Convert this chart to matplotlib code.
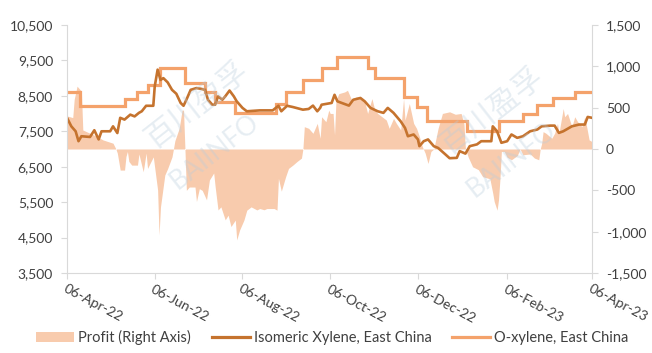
import matplotlib
matplotlib.use("Agg")
import matplotlib.pyplot as plt
from matplotlib.patches import Patch
from matplotlib.lines import Line2D
import pandas as pd

plt.rcParams['font.family'] = ['Lato', 'Noto Sans CJK SC', 'DejaVu Sans']

START = pd.Timestamp("2022-04-06")

# ---- O-xylene, East China (step changes; day offsets after 06-Apr-22) ----
ox_day = [0, 9, 40, 49, 56, 65, 82, 96, 103, 117, 145, 152, 164, 177, 188, 209,
          214, 234, 243, 250, 278, 300, 317, 327, 338, 353, 365]
ox_val = [8600, 8200, 8400, 8600, 8800, 9300, 8850, 8600, 8330, 8020, 8280, 8600,
          8950, 9300, 9600, 9300, 9000, 8480, 8180, 7780, 7500, 7780, 7980, 8250,
          8450, 8600, 8600]

# ---- Isomeric Xylene, East China ----
iso_day = [0, 3, 6, 8, 10, 16, 19, 22, 24, 30, 32, 35, 37, 40, 44, 47, 50, 52, 55,
           60, 61, 63, 65, 67, 70, 73, 76, 79, 81, 83, 86, 90, 93, 96, 98, 101, 103,
           105, 108, 110, 113, 116, 118, 122, 125, 134, 143, 147, 149, 153, 157, 164,
           168, 171, 174, 176, 177, 184, 186, 188, 191, 196, 199, 204, 207, 211, 216,
           220, 223, 227, 232, 235, 237, 241, 244, 245, 248, 251, 255, 258, 263, 266,
           271, 273, 277, 280, 285, 288, 295, 296, 299, 302, 306, 309, 313, 317, 322,
           327, 330, 336, 339, 342, 345, 351, 356, 360, 362, 365]
iso_val = [7880, 7640, 7500, 7220, 7360, 7340, 7530, 7270, 7500, 7500, 7640, 7450,
           7880, 7830, 7970, 7920, 8020, 8065, 8220, 8220, 8770, 9240, 8950, 9000,
           8880, 8670, 8560, 8300, 8220, 8390, 8670, 8720, 8700, 8670, 8390, 8250,
           8250, 8485, 8390, 8485, 8650, 8485, 8345, 8160, 8065, 8090, 8090, 8220,
           8065, 8220, 8185, 8110, 8130, 8225, 8065, 8160, 8250, 8300, 8530, 8345,
           8300, 8225, 8390, 8440, 8345, 8160, 8065, 8020, 8160, 8020, 7780, 7595,
           7360, 7410, 7270, 7080, 7220, 7270, 7080, 7030, 6850, 6740, 6750, 6940,
           6870, 7080, 7130, 7220, 7220, 7640, 7500, 7175, 7220, 7410, 7315, 7360,
           7500, 7550, 7640, 7660, 7660, 7455, 7500, 7640, 7690, 7690, 7905, 7880]

# ---- Profit (Right Axis) ----
pr_day = [0, 4, 5, 7, 10, 11, 16, 21, 25, 32, 34, 35, 37, 40, 41, 42, 43, 45, 49, 50,
          53, 55, 56, 60, 63, 64, 65, 68, 70, 73, 74, 75, 78, 80, 81, 82, 83, 85, 89,
          90, 92, 94, 97, 99, 102, 103, 105, 107, 110, 112, 114, 117, 118, 120, 123,
          125, 128, 132, 134, 137, 139, 144, 146, 147, 149, 152, 154, 157, 160, 163,
          164, 165, 168, 171, 174, 176, 177, 180, 182, 183, 185, 186, 187, 189, 193,
          195, 198, 201, 204, 207, 209, 212, 214, 216, 219, 222, 224, 227, 229, 232,
          234, 235, 238, 241, 243, 245, 247, 249, 251, 253, 255, 258, 261, 266, 270,
          274, 276, 277, 279, 282, 286, 289, 292, 294, 296, 297, 299, 300, 301, 302,
          304, 306, 309, 313, 315, 317, 322, 325, 328, 329, 330, 331, 333, 337, 339,
          341, 342, 345, 346, 348, 351, 353, 355, 358, 360, 363, 365]
pr_val = [400, 380, 600, 760, 700, 230, 190, 150, 110, 70, 0, -50, -255, -255, -90, -30,
          -150, -195, -195, -60, -275, -50, -235, -95, -495, -1040, -700, -315, -235,
          -95, 0, 100, 250, 470, 470, 0, -500, -460, -460, -635, -480, -500, -615,
          -375, -290, -455, -737, -700, -857, -800, -938, -860, -1100, -980, -860,
          -740, -700, -737, -720, -735, -720, -720, -740, -355, -510, -335, -235,
          -195, -150, -110, 0, 270, 250, 190, 310, 130, 390, 330, 470, 430, 430, 170,
          590, 670, 690, 710, 590, 630, 620, 570, 430, 610, 470, 430, 390, 350, 250,
          370, 310, 230, 610, 350, 550, 310, 250, 150, 30, -50, -175, -30, 0, 250,
          430, 450, 420, 430, 300, 0, -100, -215, -250, -335, -350, -360, -535, -635,
          -740, -615, -360, -30, -30, -100, -130, -80, 0, -70, -60, -110, -130, 0, 66,
          210, 190, 130, 190, 310, 190, 490, 390, 430, 270, 390, 330, 270, 390, 110, 90]

tick_labels = ["06-Apr-22", "06-Jun-22", "06-Aug-22", "06-Oct-22",
               "06-Dec-22", "06-Feb-23", "06-Apr-23"]
left_ticks = [3500, 4500, 5500, 6500, 7500, 8500, 9500, 10500]
right_ticks = [-1500, -1000, -500, 0, 500, 1000, 1500]

C_PROFIT = "#F8CBAD"
C_ISO = "#C5732E"
C_OX = "#F4A26B"
TXT = "#404040"
SPINE = "#D9D9D9"
WM = "#B8CCDC"

def to_dates(days):
    return START + pd.to_timedelta(days, unit="D")

fig = plt.figure(figsize=(6.52, 3.53), dpi=100)
ax = fig.add_axes([67/652, 1-273/353, (592-67)/652, (273-25)/353])
ax2 = ax.twinx()
ax.set_zorder(ax2.get_zorder() + 1)
ax.patch.set_visible(False)

ax2.fill_between(to_dates(pr_day), 0, pr_val, color=C_PROFIT, linewidth=0)
ax.plot(to_dates(ox_day), ox_val, drawstyle="steps-post", color=C_OX, lw=2.3,
        solid_joinstyle="miter")
ax.plot(to_dates(iso_day), iso_val, color=C_ISO, lw=1.9)

# faint watermark (pixel positions converted to figure fractions)
for (cx, cy), (bx, by) in [((197, 106), (215, 152)), ((492, 112), (512, 160))]:
    fig.text(cx/652, 1-cy/353, "百川盈孚", rotation=38, fontsize=22, color=WM,
             alpha=0.35, ha="center", va="center", zorder=10,
             family=['Noto Sans CJK SC', 'DejaVu Sans'])
    fig.text(bx/652, 1-by/353, "BAIINFO", rotation=38, fontsize=19, color=WM,
             alpha=0.35, ha="center", va="center", zorder=10)

ax.set_xlim(to_dates([0])[0], to_dates([365])[0])
ax.set_ylim(3500, 10500)
ax2.set_ylim(-1500, 1500)

tick_dates = pd.to_datetime(tick_labels, format="%d-%b-%y")
ax.set_xticks(tick_dates)
ax.set_xticklabels(tick_labels, rotation=-28, ha="left", va="top",
                   rotation_mode="anchor", fontsize=10, color=TXT)
ax.set_yticks(left_ticks)
ax.set_yticklabels([f"{v:,}" for v in left_ticks], fontsize=10, color=TXT)
ax2.set_yticks(right_ticks)
ax2.set_yticklabels([f"{v:,}" for v in right_ticks], fontsize=10, color=TXT)

for a in (ax, ax2):
    for s in a.spines.values():
        s.set_visible(False)
ax.spines["left"].set_visible(True)
ax.spines["left"].set_color(SPINE)
ax.spines["bottom"].set_visible(True)
ax.spines["bottom"].set_color(SPINE)
ax2.spines["right"].set_visible(True)
ax2.spines["right"].set_color(SPINE)

ax.tick_params(axis="y", length=4, color=SPINE, pad=6)
ax.tick_params(axis="x", length=4, color=SPINE, pad=3)
ax2.tick_params(axis="y", length=4, color=SPINE, pad=6)

handles = [Patch(facecolor=C_PROFIT, edgecolor="none"),
           Line2D([], [], color=C_ISO, lw=2.3),
           Line2D([], [], color=C_OX, lw=2.3)]
labels = ["Profit (Right Axis)", "Isomeric Xylene, East China", "O-xylene, East China"]
fig.legend(handles, labels, loc="lower center", bbox_to_anchor=(0.51, -0.015),
           ncol=3, frameon=False, fontsize=10.5, handlelength=2.6,
           handleheight=0.6, columnspacing=1.4, handletextpad=0.3,
           labelcolor=TXT)

fig.savefig("out.png", dpi=100)
